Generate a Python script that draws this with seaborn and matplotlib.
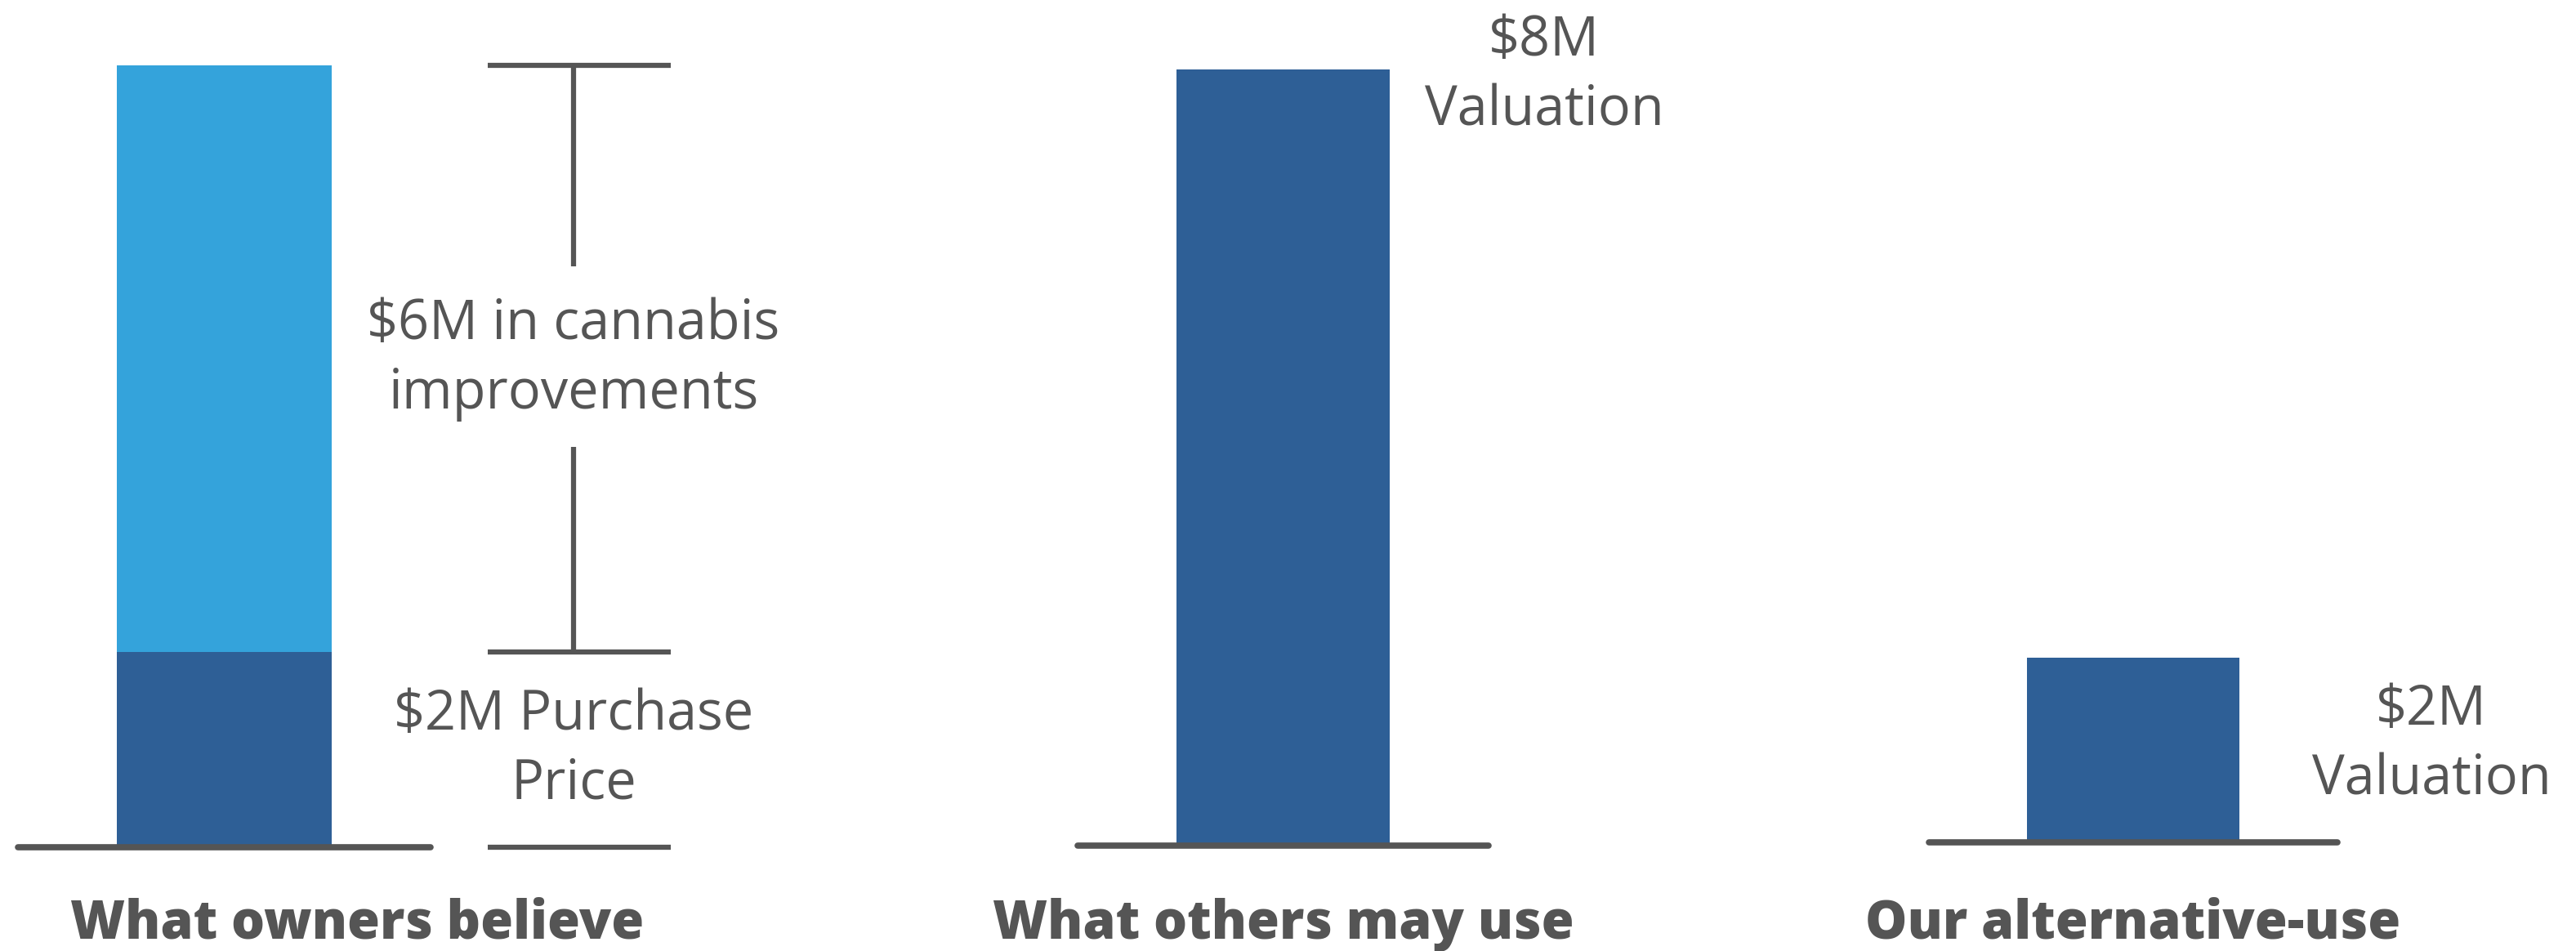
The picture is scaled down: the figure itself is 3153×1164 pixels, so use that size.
import matplotlib
matplotlib.use('Agg')
import matplotlib.pyplot as plt
import matplotlib.transforms as mtrans
import seaborn as sns
import pandas as pd

# values in $M
categories = ['What owners believe', 'What others may use', 'Our alternative-use']
base_values = [2, 8, 1.9]      # dark part of each bar
improvements = [6, 0, 0]       # light part stacked on top (only first bar)
value_labels = ['$2M Purchase\nPrice', '$8M\nValuation', '$2M\nValuation']
bracket_label = '$6M in cannabis\nimprovements'

DARK = '#2E5F96'
LIGHT = '#34A3DB'
GREY = '#555555'

sns.set_theme(style='white')
plt.rcParams['font.family'] = ['Open Sans', 'DejaVu Sans']

fig = plt.figure(figsize=(31.53, 11.64), dpi=100)

# one axes per group, spanning its baseline (figure fraction)
panels = [
    [0.0070, 0.1088, 0.1601, 0.8221],
    [0.4184, 0.1105, 0.1594, 0.8169],
    [0.7487, 0.1140, 0.1588, 0.8187],
]
# where the value text sits (x in data units from bar centre, y in $M)
label_pos = [(0.847, 1.0), (0.636, 7.93), (0.729, 1.0)]
cat_x = [0.323, 0.0, 0.0]

for i, rect in enumerate(panels):
    ax = fig.add_axes(rect)
    df = pd.DataFrame({'cat': [categories[i]],
                       'total': [base_values[i] + improvements[i]],
                       'base': [base_values[i]]})
    if improvements[i] > 0:
        sns.barplot(data=df, x='cat', y='total', color=LIGHT, saturation=1,
                    width=0.52, linewidth=0, ax=ax)
    sns.barplot(data=df, x='cat', y='base', color=DARK, saturation=1,
                width=0.52, linewidth=0, ax=ax)
    ax.set_xlim(-0.5, 0.5)
    ax.set_ylim(0, 8)
    ax.axis('off')
    ax.axhline(0, color=GREY, lw=5.5, clip_on=False, zorder=3)

    lx, ly = label_pos[i]
    ax.text(lx, ly, value_labels[i], ha='center', va='center', fontsize=48,
            color=GREY, linespacing=1.34, clip_on=False)

    tr = mtrans.blended_transform_factory(ax.transData, fig.transFigure)
    ax.text(cat_x[i], 0.013, categories[i], transform=tr, ha='center',
            va='baseline', fontsize=46.5, fontweight='heavy', color=GREY)

    if i == 0:
        top = base_values[0] + improvements[0]
        bot = base_values[0]
        kw = dict(color=GREY, lw=4.5, clip_on=False, solid_capstyle='butt')
        for yy in (top, bot, 0):
            ax.plot([0.639, 1.082], [yy, yy], **kw)
        ax.plot([0.847, 0.847], [top, 5.95], **kw)
        ax.plot([0.847, 0.847], [4.1, bot], **kw)
        ax.text(0.847, (top + bot) / 2, bracket_label, ha='center', va='center',
                fontsize=48, color=GREY, linespacing=1.34, clip_on=False)

fig.savefig('out.png', dpi=100)
